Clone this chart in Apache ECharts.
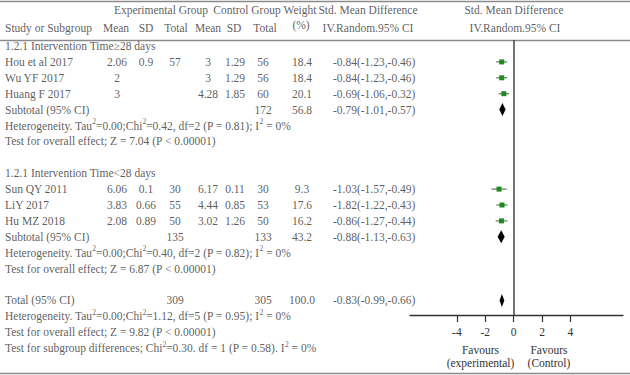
<!DOCTYPE html>
<html><head><meta charset="utf-8">
<script src="https://cdn.jsdelivr.net/npm/echarts@6/dist/echarts.min.js"></script>
<style>html,body{margin:0;padding:0;background:#fff}#c{width:630px;height:375px}</style>
</head><body><div id="c"></div>
<script>
// ---- data ----
const studies   = ['Hou et al 2017','Wu YF 2017','Huang F 2017','Sun QY 2011','LiY 2017','Hu MZ 2018'];
const studyRows = [1,2,3,9,10,11];
const expMean   = [2.06, 2, 3, 6.06, 3.83, 2.08];
const expSD     = [0.9, null, null, 0.1, 0.66, 0.89];
const expN      = [57, null, null, 30, 55, 50];
const ctrlMean  = [3, 3, 4.28, 6.17, 4.44, 3.02];
const ctrlSD    = [1.29, 1.29, 1.85, 0.11, 0.85, 1.26];
const ctrlN     = [56, 56, 60, 30, 53, 50];
const weight    = [18.4, 18.4, 20.1, 9.3, 17.6, 16.2];
const smdText   = ['-0.84(-1.23,-0.46)','-0.84(-1.23,-0.46)','-0.69(-1.06,-0.32)','-1.03(-1.57,-0.49)','-1.82(-1.22,-0.43)','-0.86(-1.27,-0.44)'];
const est       = [-0.84, -0.84, -0.69, -1.03, -0.82, -0.86];
const lo        = [-1.23, -1.23, -1.06, -1.57, -1.22, -1.27];
const hi        = [-0.46, -0.46, -0.32, -0.49, -0.43, -0.44];

const groupRows   = [0, 8];
const groupTitles = ['1.2.1 Intervention Time\u226528 days', '1.2.1 Intervention Time<28 days'];

const subRows    = [4, 12, 16];
const subLabels  = ['Subtotal (95% CI)', 'Subtotal (95% CI)', 'Total (95% CI)'];
const subExpN    = [null, 135, 309];
const subCtrlN   = [172, 133, 305];
const subWeight  = [56.8, 43.2, 100.0];
const subEst     = [-0.79, -0.88, -0.83];
const subLo      = [-1.01, -1.13, -0.99];
const subHi      = [-0.57, -0.63, -0.66];

const hetRows = [5, 13, 17];
const hetChi  = ['0.42', '0.40', '1.12'];
const hetDf   = [2, 2, 5];
const hetP    = ['0.81', '0.82', '0.95'];
const zRows   = [6, 14, 18];
const zVals   = ['7.04', '6.87', '9.82'];
const subgroupDiffRow = 19;

const axisTicks = [-4, -2, 0, 2, 4];

// ---- layout ----
const FONT = 'Liberation Serif';
const FS = 11.5;
const TXT = '#333';
const row0Y = 46, rowH = 15.9;           // pixel y of row 0 and row spacing
const W = 630, H = 375;
const plotLeft = 410, plotRight = 623, plotTop = 40, plotBottom = 315;
const xMin = -7.3, xMax = 7.7;
const toRow = y => (y - row0Y) / rowH;
const col = {name:5, expMean:117, expSD:146, expN:175, ctrlMean:208, ctrlSD:235, ctrlN:263, weight:302, smd:333};

const centerCells = [], leftCells = [];
const C = (x, r, t) => { if (t !== null && t !== undefined && t !== '') centerCells.push({value:[x, r], text:String(t)}); };
const L = (x, r, t) => leftCells.push({value:[x, r], text:String(t)});

// headers
C(161, toRow(10), 'Experimental Group');
C(247, toRow(10), 'Control Group');
C(300, toRow(10), 'Weight');
C(368, toRow(10), 'Std. Mean Difference');
C(514, toRow(10), 'Std. Mean Difference');
L(col.name, toRow(27.5), 'Study or Subgroup');
C(116, toRow(27.5), 'Mean');
C(146, toRow(27.5), 'SD');
C(176, toRow(27.5), 'Total');
C(208, toRow(27.5), 'Mean');
C(234, toRow(27.5), 'SD');
C(265, toRow(27.5), 'Total');
C(301, toRow(25), '(%)');
C(368, toRow(27.5), 'IV.Random.95% CI');
C(515, toRow(27.5), 'IV.Random.95% CI');

groupRows.forEach((r, i) => L(col.name, r, groupTitles[i]));
studies.forEach((s, i) => {
  const r = studyRows[i];
  L(col.name, r, s);
  C(col.expMean, r, expMean[i]);
  C(col.expSD, r, expSD[i]);
  C(col.expN, r, expN[i]);
  C(col.ctrlMean, r, ctrlMean[i]);
  C(col.ctrlSD, r, ctrlSD[i]);
  C(col.ctrlN, r, ctrlN[i]);
  C(col.weight, r, weight[i].toFixed(1));
  L(col.smd, r, smdText[i]);
});
subRows.forEach((r, i) => {
  L(col.name, r, subLabels[i]);
  C(col.expN, r, subExpN[i]);
  C(col.ctrlN, r, subCtrlN[i]);
  C(col.weight, r, subWeight[i].toFixed(1));
  L(col.smd, r, subEst[i].toFixed(2) + '(' + subLo[i].toFixed(2) + ',' + subHi[i].toFixed(2) + ')');
});
hetRows.forEach((r, i) => {
  L(col.name, r, 'Heterogeneity. Tau{sup|2}=0.00;Chi{sup|2}=' + hetChi[i] + ', df=' + hetDf[i] + ' (P = ' + hetP[i] + '); I{sup|2} = 0%');
});
zRows.forEach((r, i) => {
  L(col.name, r, 'Test for overall effect; Z = ' + zVals[i] + ' (P < 0.00001)');
});
L(col.name, subgroupDiffRow, 'Test for subgroup differences; Chi{sup|2}=0.30. df = 1 (P = 0.58). I{sup|2} = 0%');

const baseLabel = {show:true, fontFamily:FONT, fontSize:FS, fontWeight:'normal', color:TXT, lineHeight:16,
  formatter: p => p.data.text,
  rich: {sup: {fontFamily:FONT, fontSize:7.5, color:TXT, lineHeight:9, verticalAlign:'top'}}};

const favStyle = {fontFamily:FONT, fontSize:FS, fontWeight:'normal', fill:TXT, lineHeight:13.5, align:'center', verticalAlign:'top'};

const chart = echarts.init(document.getElementById('c'), null, {renderer:'svg'});
chart.setOption({
  animation: false,
  backgroundColor: '#fff',
  grid: [
    {left:0, right:0, top:0, bottom:0},
    {left:plotLeft, right:W - plotRight, top:plotTop, bottom:H - plotBottom}
  ],
  xAxis: [
    {gridIndex:0, type:'value', min:0, max:W, show:false},
    {gridIndex:1, type:'value', min:xMin, max:xMax, splitLine:{show:false},
     axisLine:{show:true, onZero:false, lineStyle:{color:'#333', width:1.3}},
     axisTick:{show:true, customValues:axisTicks, length:7, lineStyle:{color:'#333', width:1.2}},
     axisLabel:{customValues:axisTicks, fontFamily:FONT, fontSize:FS, fontWeight:'normal', color:TXT, margin:11}}
  ],
  yAxis: [
    {gridIndex:0, type:'value', min:toRow(0), max:toRow(H), inverse:true, show:false},
    {gridIndex:1, type:'value', min:toRow(plotTop), max:toRow(plotBottom), inverse:true, show:false}
  ],
  graphic: [
    {type:'line', shape:{x1:0, y1:1.5, x2:W, y2:1.5}, style:{stroke:'#8a8a8a', lineWidth:1.5}},
    {type:'line', shape:{x1:0, y1:40.5, x2:W, y2:40.5}, style:{stroke:'#8a8a8a', lineWidth:1.5}},
    {type:'line', shape:{x1:0, y1:373.5, x2:W, y2:373.5}, style:{stroke:'#8a8a8a', lineWidth:1.5}},
    {type:'text', x:480.5, y:343, style:Object.assign({text:'Favours\n(experimental)'}, favStyle)},
    {type:'text', x:549, y:343, style:Object.assign({text:'Favours\n(Control)'}, favStyle)}
  ],
  series: [
    {type:'scatter', xAxisIndex:0, yAxisIndex:0, symbolSize:0, silent:true, data:centerCells,
     label:Object.assign({}, baseLabel, {position:'inside', align:'center', verticalAlign:'middle'})},
    {type:'scatter', xAxisIndex:0, yAxisIndex:0, symbolSize:0, silent:true, data:leftCells,
     label:Object.assign({}, baseLabel, {position:'right', distance:0, align:'left', verticalAlign:'middle'})},
    {type:'custom', xAxisIndex:1, yAxisIndex:1, silent:true,
     data: studyRows.map((r, i) => [est[i], r, lo[i], hi[i]]),
     renderItem: (params, api) => {
       const r = api.value(1);
       const c = api.coord([api.value(0), r]);
       const a = api.coord([api.value(2), r]);
       const b = api.coord([api.value(3), r]);
       return {type:'group', children:[
         {type:'line', shape:{x1:a[0], y1:a[1], x2:b[0], y2:b[1]}, style:{stroke:'#5d7a5d', lineWidth:1.2}},
         {type:'rect', shape:{x:c[0]-2.5, y:c[1]-2.5, width:5, height:5}, style:{fill:'#1f8a1f'}}
       ]};
     }},
    {type:'custom', xAxisIndex:1, yAxisIndex:1, silent:true,
     data: subRows.map((r, i) => [subEst[i], r, subLo[i], subHi[i]]),
     renderItem: (params, api) => {
       const r = api.value(1);
       const c = api.coord([api.value(0), r]);
       const a = api.coord([api.value(2), r]);
       const b = api.coord([api.value(3), r]);
       return {type:'polygon', shape:{points:[[a[0], c[1]], [c[0], c[1]-6.5], [b[0], c[1]], [c[0], c[1]+6.5]]}, style:{fill:'#000'}};
     },
     markLine:{silent:true, symbol:'none', label:{show:false}, lineStyle:{color:'#444', width:1.5, type:'solid'}, data:[{xAxis:0}]}}
  ]
});
</script></body></html>
